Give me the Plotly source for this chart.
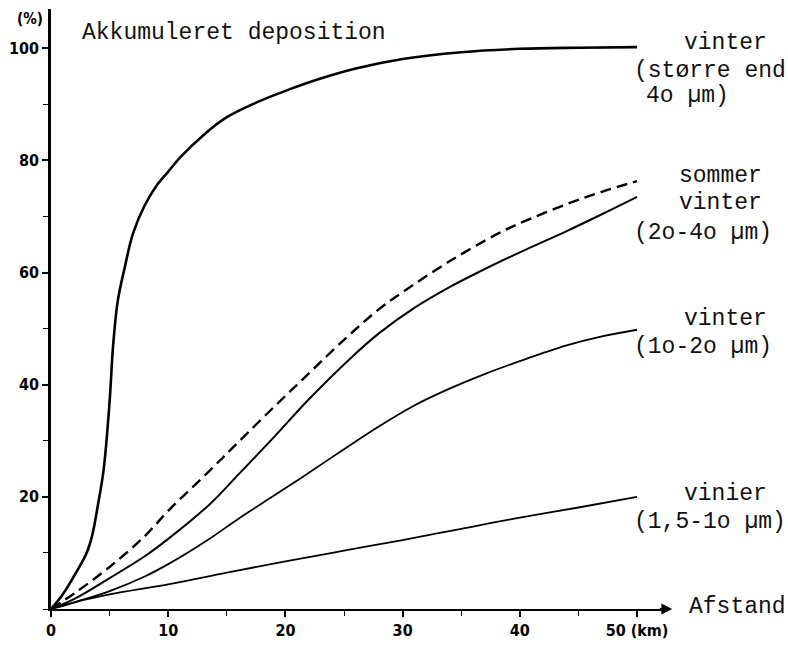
import plotly.graph_objects as go

# distance (km) and accumulated deposition (%)
x_big = [0, 1, 2, 3, 3.5, 4, 4.5, 5, 5.3, 5.7, 6.3, 7, 8, 9, 10, 11, 13, 15, 17.5, 20, 23, 26, 30, 35, 40, 45, 50]
y_big = [0, 2.6, 6, 9.8, 13, 18.5, 25, 37, 47, 55, 61, 67, 72, 75.5, 78, 80.5, 84.5, 87.7, 90.3, 92.4, 94.6, 96.4, 98.1, 99.3, 99.9, 100.1, 100.2]

x_som = [0, 2, 5, 8, 10, 13.5, 16, 19.5, 21.5, 25, 28, 30, 34, 38, 40, 44, 47, 50]
y_som = [0, 2.8, 7.5, 13, 17.5, 24.6, 29.8, 37, 41, 48, 53.5, 56.5, 62, 66.8, 68.8, 72.2, 74.4, 76.3]

x_2040 = [0, 2, 5, 8, 10, 13.5, 16, 19, 22, 25.7, 28, 31, 34, 36.7, 40, 44, 47, 50]
y_2040 = [0, 1.8, 5.5, 9.4, 12.5, 18.6, 24, 30.6, 37.4, 45, 49.2, 53.7, 57.4, 60.3, 63.6, 67.4, 70.4, 73.5]

x_1020 = [0, 2, 5, 8, 10, 13.5, 16, 19, 21.5, 25, 28, 31, 34, 37, 40, 44, 47, 50]
y_1020 = [0, 1.2, 3.2, 5.8, 8, 12.5, 16.1, 20.2, 23.6, 28.5, 32.6, 36.3, 39.3, 41.9, 44.2, 47.0, 48.6, 49.8]

x_0110 = [0, 2, 5, 10, 15, 20, 25, 30, 35, 40, 45, 50]
y_0110 = [0, 1.2, 2.6, 4.4, 6.5, 8.5, 10.4, 12.3, 14.3, 16.3, 18.1, 20]

x_ticks = [0, 10, 20, 30, 40, 50]
x_ticktext = ["0", "10", "20", "30", "40", "50 (km)"]
y_ticks = [20, 40, 60, 80, 100]
y_ticktext = ["20", "40", "60", "80", "100"]

X_MAX = 52.3
Y_MAX = 107

title_text = "Akkumuleret deposition"
x_title = "Afstand"
y_title = "(%)"
# label text, left edge (km units), centre (% units)
labels = [
    ("vinter", 53.8, 101.0),
    ("(større end", 49.6, 96.0),
    ("4o µm)", 50.6, 91.5),
    ("sommer", 53.4, 77.3),
    ("vinter", 53.4, 72.4),
    ("(2o-4o µm)", 49.6, 67.0),
    ("vinter", 53.8, 51.7),
    ("(1o-2o µm)", 49.6, 46.7),
    ("vinier", 53.8, 20.5),
    ("(1,5-1o µm)", 49.6, 15.5),
    (title_text, 2.5, 102.8),
    (x_title, 54.3, 0.3),
]

mono = "Liberation Mono, Courier New, monospace"
narrow = "DejaVu Sans Condensed, Liberation Sans Narrow, Arial Narrow, sans-serif"

fig = go.Figure()
common = dict(mode="lines", line_shape="spline", hoverinfo="skip", showlegend=False)
fig.add_trace(go.Scatter(x=x_big, y=y_big, line=dict(color="black", width=2.6), **common))
fig.add_trace(go.Scatter(x=x_som, y=y_som, line=dict(color="black", width=2.4, dash="11px,6px"), **common))
fig.add_trace(go.Scatter(x=x_2040, y=y_2040, line=dict(color="black", width=2.0), **common))
fig.add_trace(go.Scatter(x=x_1020, y=y_1020, line=dict(color="black", width=1.8), **common))
fig.add_trace(go.Scatter(x=x_0110, y=y_0110, line=dict(color="black", width=1.8), **common))

for txt, xx, yy in labels:
    fig.add_annotation(x=xx / X_MAX, y=yy / Y_MAX, xref="paper", yref="paper", text=txt,
                       showarrow=False, xanchor="left", yanchor="middle",
                       font=dict(family=mono, size=23, color="#111"))

fig.add_annotation(x=-0.5 / X_MAX, y=105.3 / Y_MAX, xref="paper", yref="paper", text=y_title,
                   showarrow=False, xanchor="right", yanchor="middle",
                   font=dict(family=narrow, size=15, color="black", weight="bold"))
# arrow head at end of distance axis
fig.add_annotation(x=53.0 / X_MAX, y=0, xref="paper", yref="paper", ax=-14, ay=0, text="",
                   showarrow=True, arrowhead=2, arrowsize=1.2, arrowwidth=1.8, arrowcolor="black")

fig.update_xaxes(range=[0, X_MAX], showline=True, linecolor="black", linewidth=1.6, showgrid=False,
                 zeroline=False, tickmode="array", tickvals=x_ticks, ticktext=x_ticktext,
                 ticks="outside", ticklen=6, tickwidth=1.5, tickcolor="black",
                 minor=dict(ticks="outside", ticklen=5, tickwidth=1.3, tickcolor="black", dtick=5, tick0=0),
                 tickfont=dict(family=narrow, size=16, color="black", weight="bold"))
fig.update_yaxes(range=[0, Y_MAX], showline=True, linecolor="black", linewidth=2.6, showgrid=False,
                 zeroline=False, tickmode="array", tickvals=y_ticks, ticktext=y_ticktext,
                 ticks="outside", ticklen=6, tickwidth=1.5, tickcolor="black",
                 minor=dict(ticks="outside", ticklen=5, tickwidth=1.3, tickcolor="black", dtick=10, tick0=10),
                 tickfont=dict(family=narrow, size=16, color="black", weight="bold"))

fig.update_layout(width=788, height=649, margin=dict(l=47, r=124, t=9, b=31),
                  plot_bgcolor="white", paper_bgcolor="white")

fig.write_html("out.html")
